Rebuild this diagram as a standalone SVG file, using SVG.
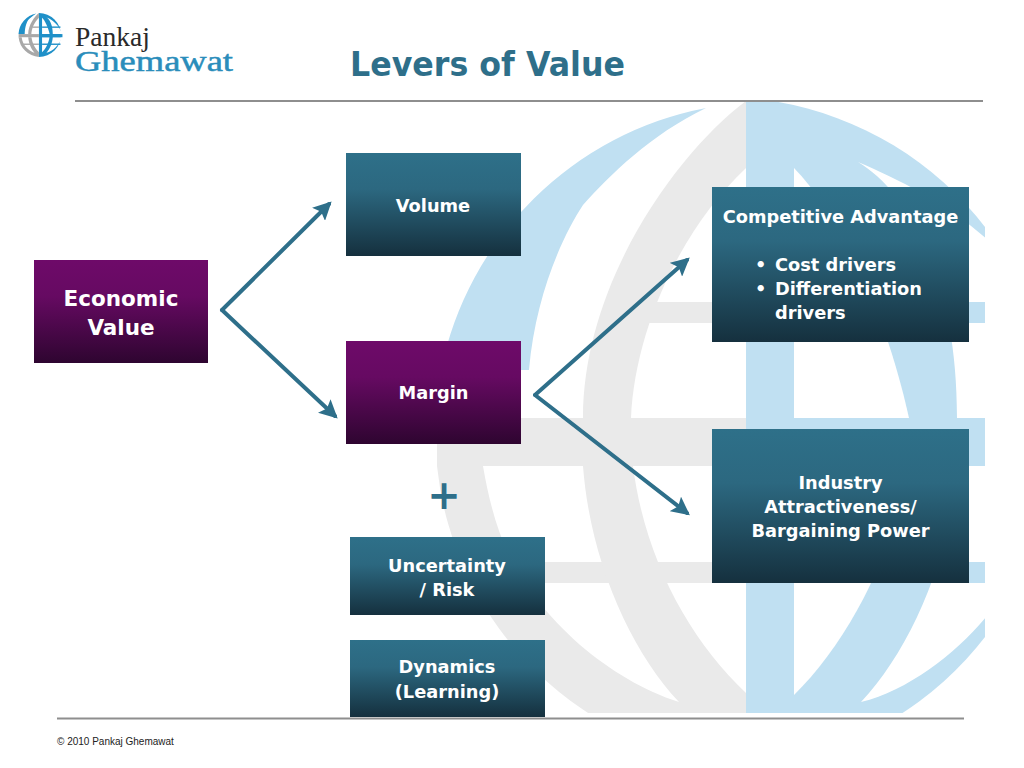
<svg xmlns="http://www.w3.org/2000/svg" width="1024" height="768" viewBox="0 0 1024 768">
<style>
.t{font-family:"DejaVu Sans","Liberation Sans",sans-serif;font-weight:700;font-size:17.800px;fill:#fff;text-anchor:middle}
.e{font-size:21.500px}
.l{text-anchor:start}
.c{fill:none;stroke:#2e6f8a;stroke-width:4;stroke-linecap:round;marker-end:url(#a)}
.b{fill:#c0e0f2}.g{fill:#eaeaea}.w{fill:#fff}
.lb{fill:#1f90c8}.lg{fill:#a8a8a8}
.tb{fill:url(#teal)}.pb{fill:url(#purple)}
</style>
<defs>
<linearGradient id="teal" x1="0" y1="0" x2="0" y2="1"><stop offset="0" stop-color="#2e7089"/><stop offset=".35" stop-color="#2c6880"/><stop offset="1" stop-color="#15303e"/></linearGradient>
<linearGradient id="purple" x1="0" y1="0" x2="0" y2="1"><stop offset="0" stop-color="#6e0a69"/><stop offset=".35" stop-color="#660a62"/><stop offset="1" stop-color="#2e0530"/></linearGradient>
<marker id="a" viewBox="0 0 10 10" refX="8" refY="5" markerWidth="4.6" markerHeight="4.6" orient="auto"><path d="M0 0L10 5L0 10L2 5Z" fill="#2e6f8a"/></marker>
<clipPath id="gc"><rect x="300" y="101" width="685" height="612"/></clipPath>
</defs>
<rect width="1024" height="768" fill="#fff"/>
<g id="watermark" clip-path="url(#gc)">
<path class="b" d="M746 98A335 335 0 0 1 746 766Z"/>
<path class="w" d="M794 168C840 215 885 310 909 418H794Z"/>
<path class="w" d="M858 162C905 190 957 270 957 418H990V242C950 205 900 180 858 162Z"/>
<path class="w" d="M794 466V695C850 640 895 550 907 466Z"/>
<path class="w" d="M957 466C950 560 910 650 861 702C910 690 960 650 990 612V466Z"/>
<rect class="b" x="794" y="302" width="191" height="21"/>
<rect class="b" x="794" y="418" width="191" height="48"/>
<rect class="b" x="794" y="562" width="191" height="21"/>
<path class="b" d="M706 108A335 335 0 0 0 441 370H529C535 300 560 240 583 205C610 175 650 135 706 108Z"/>
<path class="g" d="M746 101C680 150 583 280 583 418H631C635 330 680 230 746 168Z"/>
<rect class="g" x="645" y="302" width="101" height="21"/>
<rect class="g" x="437" y="418" width="309" height="48"/>
<rect class="g" x="505" y="562" width="241" height="21"/>
<path class="g" d="M437 466A335 335 0 0 0 746 766V693C690 640 645 560 633 466H583C590 560 630 650 679 702C610 680 540 620 508 553C495 525 488 495 483 466Z"/>
</g>
<g id="logo">
<g transform="translate(40.500 35) scale(.0657) translate(-770 -432)">
<path class="lb" d="M746 97A335 335 0 0 1 746 767Z"/>
<path class="w" d="M794 168C840 215 885 310 909 418H794Z"/>
<path class="w" d="M858 162C905 190 957 270 957 418H1095C1085 340 1000 220 858 162Z"/>
<path class="w" d="M794 466V695C850 640 895 550 907 466Z"/>
<path class="w" d="M957 466C950 560 910 650 861 702C960 680 1060 580 1095 466Z"/>
<rect class="lb" x="794" y="302" width="280" height="21"/>
<rect class="lb" x="794" y="418" width="310" height="48"/>
<rect class="lb" x="794" y="562" width="280" height="21"/>
<path class="lb" d="M706 103A335 335 0 0 0 435 418H529C535 300 560 240 583 205C610 175 650 135 706 103Z"/>
<path class="lg" d="M746 97C680 150 583 280 583 418H631C635 330 680 230 746 168Z"/>
<rect class="lg" x="645" y="302" width="101" height="21"/>
<rect class="lg" x="437" y="418" width="309" height="48"/>
<rect class="lg" x="505" y="562" width="241" height="21"/>
<path class="lg" d="M437 466A335 335 0 0 0 746 767V693C690 640 645 560 633 466H583C590 560 630 650 679 702C610 680 540 620 508 553C495 525 488 495 483 466Z"/>
</g>
<text x="75" y="46" font-family="'Liberation Serif',serif" font-size="28" fill="#2a2a2a" textLength="75" lengthAdjust="spacingAndGlyphs">Pankaj</text>
<text x="75" y="71" font-family="'Liberation Serif',serif" font-size="30" fill="#2a8dbb" textLength="158" lengthAdjust="spacingAndGlyphs" stroke="#2a8dbb" stroke-width=".5">Ghemawat</text>
</g>
<text id="title" x="350" y="76" font-family="'DejaVu Sans',sans-serif" font-weight="700" font-size="33.500" fill="#2e6f8a" textLength="275" lengthAdjust="spacingAndGlyphs">Levers of Value</text>
<rect id="top-rule" x="75" y="100" width="908" height="2" fill="#8e8e8e"/>
<rect id="bottom-rule" x="57" y="717.500" width="907" height="2" fill="#8e8e8e"/>
<g id="connectors">
<path class="c" d="M222 310L329 204"/>
<path class="c" d="M222 310L335 416"/>
<path class="c" d="M535 395L687 260"/>
<path class="c" d="M535 395L687 513"/>
</g>
<g id="economic-value"><rect class="pb" x="34" y="260" width="174" height="103"/><text class="t e" x="121" y="306">Economic</text><text class="t e" x="121" y="335">Value</text></g>
<g id="volume"><rect class="tb" x="346" y="153" width="175" height="103"/><text class="t" x="433" y="212">Volume</text></g>
<g id="margin"><rect class="pb" x="346" y="341" width="175" height="103"/><text class="t" x="433.500" y="399">Margin</text></g>
<text id="plus" x="444" y="509" font-family="'DejaVu Sans',sans-serif" font-weight="700" font-size="40" fill="#2e6f8a" text-anchor="middle">+</text>
<g id="uncertainty"><rect class="tb" x="350" y="537" width="195" height="78"/><text class="t" x="447" y="572">Uncertainty</text><text class="t" x="447" y="596">/ Risk</text></g>
<g id="dynamics"><rect class="tb" x="350" y="640" width="195" height="77"/><text class="t" x="447" y="673">Dynamics</text><text class="t" x="447" y="698">(Learning)</text></g>
<g id="competitive-advantage"><rect class="tb" x="712" y="187" width="257" height="155"/><text class="t" x="840.500" y="223">Competitive Advantage</text><text class="t l" x="755" y="271">•</text><text class="t l" x="775" y="271">Cost drivers</text><text class="t l" x="755" y="295">•</text><text class="t l" x="775" y="295">Differentiation</text><text class="t l" x="775" y="319">drivers</text></g>
<g id="industry"><rect class="tb" x="712" y="429" width="257" height="154"/><text class="t" x="840.500" y="489">Industry</text><text class="t" x="840.500" y="513">Attractiveness/</text><text class="t" x="840.500" y="537">Bargaining Power</text></g>
<text id="footer" x="57" y="745" font-family="'Liberation Sans',sans-serif" font-size="10" fill="#222">© 2010 Pankaj Ghemawat</text>
</svg>
